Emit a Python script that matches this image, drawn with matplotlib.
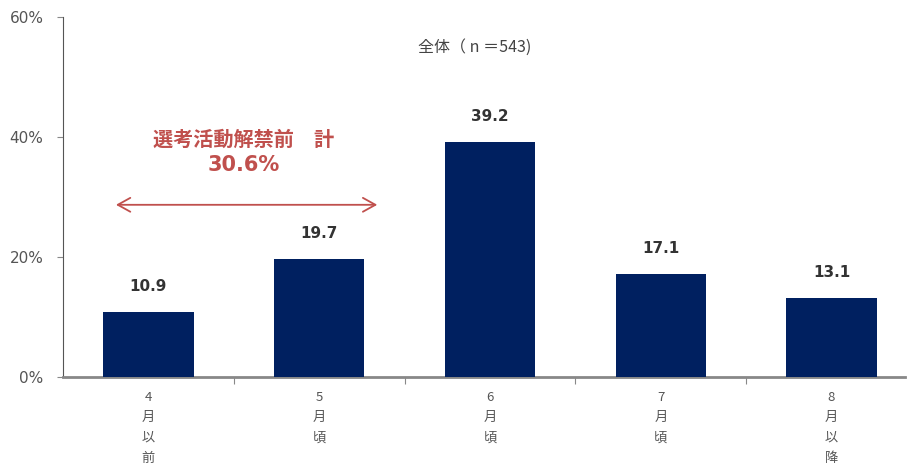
import matplotlib
matplotlib.use("Agg")
import matplotlib.pyplot as plt
from matplotlib.ticker import FixedLocator, FuncFormatter

plt.rcParams['font.family'] = ['Noto Sans CJK JP', 'DejaVu Sans']

categories = ["4\n月\n以\n前", "5\n月\n頃", "6\n月\n頃", "7\n月\n頃", "8\n月\n以\n降"]
values = [10.9, 19.7, 39.2, 17.1, 13.1]
yticks = [0, 20, 40, 60]
subtitle = "全体（ n ＝543)"
bracket_title = "選考活動解禁前　計"
bracket_total = 30.6

fig = plt.figure(figsize=(9.07, 4.66), dpi=100)
ax = fig.add_axes([63/907, 89/466, 842/907, 360/466])

x = list(range(len(categories)))
ax.bar(x, values, width=0.53, color="#002060", zorder=3)

for xi, v in zip(x, values):
    ax.text(xi, v + 3.0, f"{v:.1f}", ha="center", va="bottom",
            fontsize=11, fontweight="bold", color="#333333",
            family=['DejaVu Sans'])

ax.set_xlim(-0.5, 4.43)
ax.set_ylim(0, 60)
ax.yaxis.set_major_locator(FixedLocator(yticks))
ax.yaxis.set_major_formatter(FuncFormatter(lambda v, p: f"{v:.0f}%"))
ax.tick_params(axis="y", length=4, width=0.8, color="#888888",
               labelsize=11, labelcolor="#555555", pad=10)
for lbl in ax.get_yticklabels():
    lbl.set_family(['DejaVu Sans'])

# category boundary ticks on the x axis
ax.set_xticks([i + 0.5 for i in x[:-1]], minor=True)
ax.set_xticks(x)
ax.set_xticklabels(categories, fontsize=9.5, color="#555555", linespacing=1.75)
ax.tick_params(axis="x", which="major", length=0, pad=10)
ax.tick_params(axis="x", which="minor", length=5, width=0.8, color="#888888")

for side in ["top", "right"]:
    ax.spines[side].set_visible(False)
ax.spines["left"].set_color("#555555")
ax.spines["left"].set_linewidth(0.8)
ax.spines["bottom"].set_color("#888888")
ax.spines["bottom"].set_linewidth(2)

ax.text(1.91, 55, subtitle, ha="center", va="center", fontsize=11.5, color="#444444")

# bracket spanning the pre-launch months
red = "#C0504D"
ax.annotate("", xy=(-0.19, 28.7), xytext=(1.34, 28.7),
            arrowprops=dict(arrowstyle="<->,head_length=0.9,head_width=0.5",
                            color=red, lw=1.3, shrinkA=0, shrinkB=0))
ax.text(0.56, 39.6, bracket_title, ha="center", va="center",
        fontsize=14.5, fontweight="bold", color=red)
ax.text(0.56, 35.3, f"{bracket_total:.1f}%", ha="center", va="center",
        fontsize=15, fontweight="bold", color=red, family=['DejaVu Sans'])

fig.savefig("out.png", dpi=100)
